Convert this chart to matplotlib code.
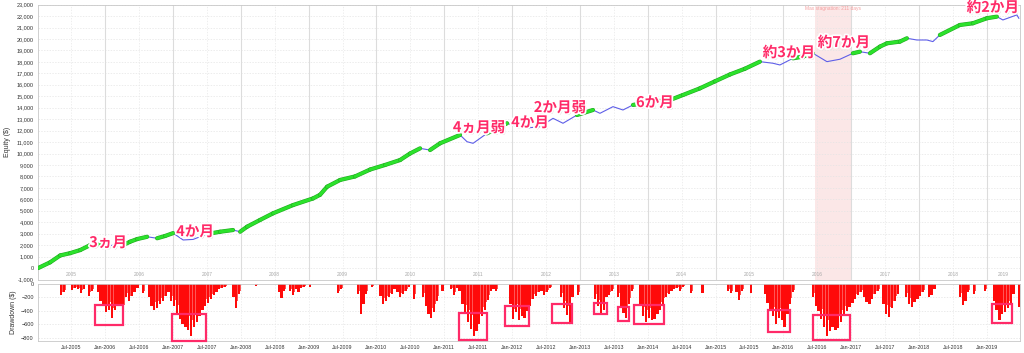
import numpy as np
import matplotlib
matplotlib.use("Agg")
import matplotlib.pyplot as plt
import matplotlib.patheffects as pe
from matplotlib.patches import Rectangle
from matplotlib.ticker import FuncFormatter, FixedLocator

plt.rcParams['font.family'] = ['Liberation Sans', 'Noto Sans CJK JP', 'DejaVu Sans']

# ── Equity curve readings (decimal year, $) ──────────────────────────────────
eq_t = [2005.013, 2005.189, 2005.337, 2005.484, 2005.632, 2005.779, 2005.926, 2006.029,
        2006.147, 2006.265, 2006.368, 2006.472, 2006.619, 2006.766, 2006.884, 2007.002,
        2007.150, 2007.297, 2007.503, 2007.695, 2007.886, 2007.990, 2008.093, 2008.284,
        2008.476, 2008.771, 2009.066, 2009.169, 2009.272, 2009.464, 2009.685, 2009.906,
        2010.127, 2010.348, 2010.495, 2010.643, 2010.790, 2010.937, 2011.232, 2011.335,
        2011.424, 2011.630, 2011.925, 2012.161, 2012.411, 2012.603, 2012.750, 2012.956,
        2013.192, 2013.295, 2013.487, 2013.634, 2013.782, 2014.077, 2014.327, 2014.519,
        2014.769, 2014.990, 2015.211, 2015.432, 2015.653, 2015.845, 2015.948, 2016.140,
        2016.287, 2016.435, 2016.641, 2016.833, 2017.024, 2017.127, 2017.275, 2017.422,
        2017.525, 2017.717, 2017.820, 2017.967, 2018.115, 2018.203, 2018.306, 2018.601,
        2018.793, 2018.999, 2019.146, 2019.235, 2019.441, 2019.470]
eq_v = [0, 500, 1100, 1300, 1570, 2000, 2050, 1950,
        2000, 2000, 2300, 2530, 2730, 2600, 2800, 3050,
        2450, 2500, 2970, 3170, 3320, 3170, 3610, 4200,
        4780, 5500, 6080, 6400, 7100, 7690, 8000, 8600,
        9000, 9430, 10000, 10450, 10300, 10890, 11620, 11030,
        10890, 11760, 12640, 12200, 12340, 13070, 12640, 13360,
        13800, 13510, 14090, 13800, 14240, 14530, 14670, 15110,
        15690, 16300, 16900, 17400, 18020, 17880, 17730, 18310,
        18460, 18750, 18020, 18230, 18750, 18890, 18750, 19330,
        19620, 19770, 20060, 19910, 19910, 19770, 20350, 21220,
        21370, 21810, 21950, 21660, 22100, 21810]

# ── Drawdown readings: half-month index since Jan-2005, value ($) ──────────
dd_k = [8, 9, 12, 13, 14, 15, 16, 18, 19,
        21, 22, 23, 24, 25, 26, 27, 28, 29, 30, 31, 32, 33, 34, 35, 37,
        39, 40, 41, 42, 43, 44, 45, 46,
        47, 48, 49, 50, 51, 52, 53, 54, 55, 56, 57, 58, 59, 60, 61, 62, 63, 64, 65, 66,
        69, 70, 71, 77, 85, 86, 87, 89, 90, 91, 92, 93, 94, 96, 106, 107,
        113, 114, 115, 116, 118,
        121, 122, 123, 124, 125, 126, 127, 128, 129, 130, 131, 133,
        136, 137, 138, 139, 140, 141, 143, 146, 147, 148,
        149, 150, 151, 152, 153, 154, 155, 156, 157, 158, 159, 160, 161, 162,
        167, 168, 169, 170, 171, 172, 173, 174, 175, 176, 177, 178, 179, 180, 181,
        185, 186, 187, 188, 189, 191,
        197, 198, 199, 200, 201, 202, 203,
        205, 206, 207, 208, 209, 210,
        213, 214, 215, 216, 217, 218, 219, 220, 221, 222, 223, 224, 225, 226, 227, 228,
        231, 235, 244, 245, 247, 248, 249, 252,
        257, 258, 259, 260, 261, 262, 263, 264, 265, 266, 267,
        274, 275, 276, 277, 278, 279, 280, 281, 282, 283, 284, 285, 286, 287, 288, 289, 290, 291,
        292, 293, 294, 295, 296, 297,
        299, 300, 301, 302, 303, 304,
        307, 308, 309, 310, 311, 312, 313, 315, 316, 317,
        326, 327, 328, 329, 331, 335,
        338, 339, 340, 341, 342, 343, 344, 345, 347]
dd_v = [-160, -120, -90, -60, -80, -130, -70, -180, -100,
        -120, -250, -300, -420, -380, -510, -380, -300, -330, -440, -200, -250, -180, -120, -60, -140,
        -200, -330, -380, -350, -300, -250, -180, -120,
        -250, -330, -450, -520, -600, -640, -680, -765, -640, -560, -480, -380, -320, -280, -220, -170, -120, -80, -60, -40,
        -200, -360, -150, -30, -120, -210, -100, -100, -160, -80, -120, -60, -40, -40, -140, -80,
        -150, -440, -300, -150, -40,
        -180, -300, -250, -200, -150, -80, -120, -200, -150, -100, -50, -215,
        -200, -320, -450, -510, -420, -250, -100, -80, -160, -60,
        -100, -300, -450, -560, -660, -770, -700, -600, -480, -380, -240, -100, -80, -100,
        -300, -520, -420, -540, -470, -500, -400, -320, -220, -180, -120, -100, -160, -120, -60,
        -200, -350, -460, -560, -200, -160,
        -220, -330, -430, -380, -200, -160, -100,
        -200, -320, -430, -510, -300, -100,
        -300, -480, -560, -500, -540, -520, -440, -380, -300, -200, -150, -100, -80, -60, -100, -40,
        -140, -140, -100, -140, -120, -240, -100, -140,
        -150, -280, -400, -480, -600, -500, -540, -640, -450, -300, -120,
        -200, -320, -400, -520, -640, -770, -700, -640, -680, -650, -560, -460, -400, -340, -280, -220, -160, -120,
        -200, -260, -300, -220, -150, -100,
        -300, -440, -490, -350, -250, -150,
        -200, -300, -340, -260, -220, -180, -120, -200, -160, -80,
        -200, -310, -250, -120, -150, -100,
        -250, -380, -540, -450, -420, -360, -300, -150, -340]

# ── Hand annotations ────────────────────────────────────────────────────────
notes = ["3ヵ月", "4か月", "4ヵ月弱", "4か月", "2か月弱", "6か月", "約3か月", "約7か月", "約2か月"]
note_t = [2006.044, 2007.326, 2011.512, 2012.264, 2012.706, 2014.106, 2016.081, 2016.892, 2019.088]
note_v = [2270, 3230, 12314, 12750, 14060, 14500, 18860, 19740, 22800]

# boxes on drawdown panel: (start, end, top, bottom)
box_t0 = [2005.853, 2006.987, 2011.217, 2011.895, 2012.588, 2013.207, 2013.561, 2013.797, 2015.772, 2016.435, 2019.073]
box_t1 = [2006.265, 2007.489, 2011.630, 2012.249, 2012.883, 2013.399, 2013.723, 2014.239, 2016.096, 2016.981, 2019.368]
box_hi = [-311, -444, -430, -326, -296, -281, -341, -311, -385, -459, -296]
box_lo = [-607, -840, -830, -622, -578, -444, -548, -592, -711, -829, -578]

stag_t0, stag_t1 = 2016.464, 2017.01
years = list(range(2005, 2020))

pink = "#FF2A68"
x0, x1 = 2005.01, 2019.48

fig = plt.figure(figsize=(10.24, 3.53), dpi=100)
ax1 = fig.add_axes([38 / 1024, 1 - 279.5 / 353, 981.5 / 1024, 274.9 / 353])
ax2 = fig.add_axes([38 / 1024, 1 - 341 / 353, 981.5 / 1024, 57 / 353])

# ─── Equity panel ───────────────────────────────────────────────────────────
ax1.set_xlim(x0, x1)
ax1.set_ylim(-1000, 23000)
ax1.axvspan(stag_t0, stag_t1, color="#FBE1E1", alpha=0.8, zorder=0, lw=0)
ax1.text((stag_t0 + stag_t1) / 2, 22700, "Max stagnation: 211 days", color="#F4A0A0",
         fontsize=3.5, ha="center", va="center")

for y in range(-1000, 23001, 1000):
    ax1.axhline(y, color="#E4E4E4", lw=0.5, ls=(0, (2, 2)), zorder=0)
for yr in years[1:]:
    ax1.axvline(yr, color="#DCDCDC", lw=0.8, zorder=0)
    ax1.axvline(yr - 0.5, color="#E8E8E8", lw=0.5, ls=(0, (2, 2)), zorder=0)
for yr in years:
    xc = (max(yr, x0) + min(yr + 1, x1)) / 2
    ax1.text(xc, -560, str(yr), color="#A8A8A8", fontsize=3.5, ha="center", va="center")

eq_t = np.array(eq_t)
eq_v = np.array(eq_v)
peak = np.maximum.accumulate(eq_v)
ax1.plot(eq_t, eq_v, color="#5E5EE8", lw=0.8, zorder=3)
# new-high stretches drawn in green (segment must start near the running peak)
for i in range(len(eq_v) - 1):
    if eq_v[i + 1] >= peak[i] and eq_v[i] >= peak[i] - 150:
        ax1.plot(eq_t[i:i + 2], eq_v[i:i + 2], color="#2BE22B", lw=2.2,
                 solid_capstyle="round", zorder=4,
                 path_effects=[pe.Stroke(linewidth=3.0, foreground="#22AA22"), pe.Normal()])

for s, t, v in zip(notes, note_t, note_v):
    ax1.text(t, v, s, color=pink, fontsize=10.5, fontweight="bold", ha="center", va="center",
             family=["Noto Sans CJK JP", "DejaVu Sans"], zorder=6,
             path_effects=[pe.SimplePatchShadow(offset=(1, -1), alpha=0.25),
                           pe.Stroke(linewidth=2.5, foreground="white"), pe.Normal()])

ax1.yaxis.set_major_locator(FixedLocator(range(-1000, 23001, 1000)))
ax1.yaxis.set_major_formatter(FuncFormatter(lambda v, p: f"{v:,.0f}"))
ax1.tick_params(axis="y", labelsize=4, length=0, pad=3, labelcolor="#333333")
ax1.set_xticks([])
ax1.set_ylabel("Equity ($)", fontsize=5, labelpad=4, color="#333333")
for sp in ax1.spines.values():
    sp.set_color("#C8C8C8")
    sp.set_linewidth(0.6)

# ─── Drawdown panel ─────────────────────────────────────────────────────────
ax2.set_xlim(x0, x1)
ax2.set_ylim(-845, 0)
dd_t = 2005 + np.array(dd_k) / 24
ax2.bar(dd_t, dd_v, width=0.8 / 24, align="edge", color="#FF0A0A", lw=0, zorder=2)
ax2.bar(dd_t + 0.8 / 24, np.array(dd_v) * 0.7, width=0.2 / 24, align="edge",
        color="#FF5555", lw=0, zorder=2)

for y in [-200, -400, -600, -800]:
    ax2.axhline(y, color="#E2E2E2", lw=0.5, ls=(0, (2, 2)), zorder=0)
half = [2005.5 + 0.5 * i for i in range(28)]
for h in half:
    ax2.axvline(h, color="#E8E8E8", lw=0.5, ls=(0, (2, 2)), zorder=0)

for a, b, hi, lo in zip(box_t0, box_t1, box_hi, box_lo):
    ax2.add_patch(Rectangle((a, lo), b - a, hi - lo, fill=False, ec=pink, lw=1.6,
                            zorder=5, clip_on=False))

ax2.set_xticks(half)
ax2.set_xticklabels([("Jul-" if h % 1 else "Jan-") + str(int(h)) for h in half])
ax2.set_yticks([0, -200, -400, -600, -800])
ax2.tick_params(axis="x", labelsize=3.8, length=0, pad=3, labelcolor="#333333")
ax2.tick_params(axis="y", labelsize=4, length=0, pad=3, labelcolor="#333333")
ax2.set_ylabel("Drawdown ($)", fontsize=5, labelpad=3, color="#333333")
for sp in ax2.spines.values():
    sp.set_color("#C8C8C8")
    sp.set_linewidth(0.6)

fig.savefig("out.png", dpi=100)
